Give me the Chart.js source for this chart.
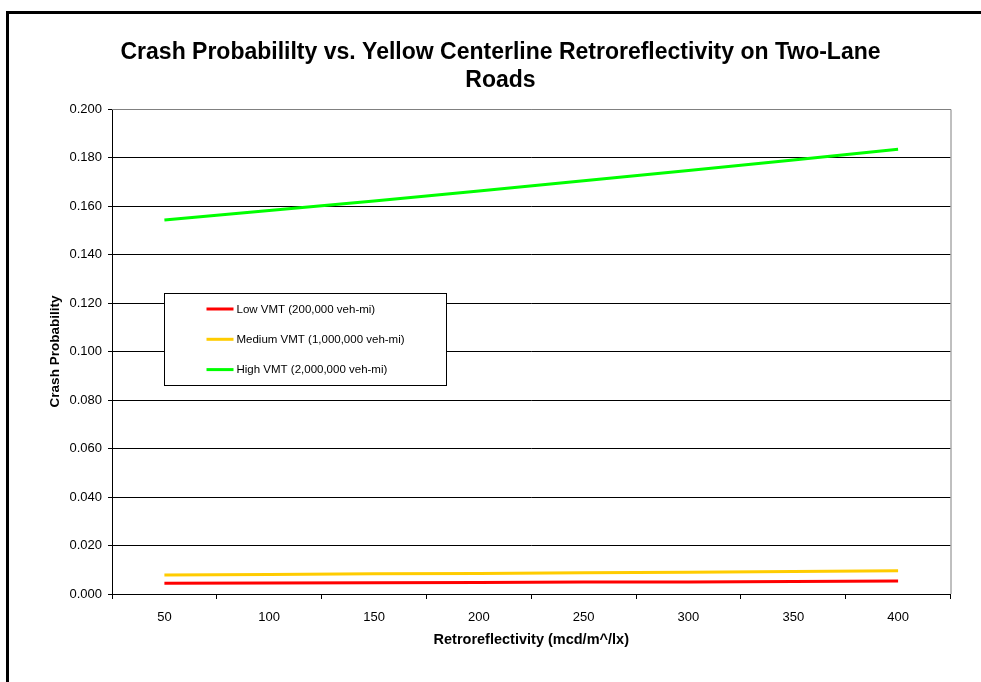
<!DOCTYPE html>
<html>
<head>
<meta charset="utf-8">
<title>Crash Probability vs. Retroreflectivity</title>
<script src="https://cdn.jsdelivr.net/npm/chart.js@4"></script>
<style>
  body { margin: 0; background: #fff; }
  #frame {
    position: absolute; left: 6px; top: 11px; width: 1100px; height: 800px;
    border-left: 3px solid #000; border-top: 3px solid #000;
  }
  #crashChart { position: absolute; left: 0; top: 0; }
</style>
</head>
<body>
<div id="frame"></div>
<canvas id="crashChart" width="981" height="682"></canvas>
<script>
// Data
const retroValues = ['50', '100', '150', '200', '250', '300', '350', '400'];
const lowVmt = [0.0044, 0.0045, 0.0046, 0.0047, 0.0049, 0.0050, 0.0052, 0.0054];
const mediumVmt = [0.0078, 0.0080, 0.0083, 0.0085, 0.0088, 0.0090, 0.0093, 0.0096];
const highVmt = [0.1542, 0.1581, 0.1621, 0.1662, 0.1704, 0.1746, 0.1790, 0.1834];
const seriesNames = ['Low VMT (200,000 veh-mi)', 'Medium VMT (1,000,000 veh-mi)', 'High VMT (2,000,000 veh-mi)'];
const seriesColors = ['#ff0000', '#ffcc00', '#00ff00'];

const font = 'Arial, "Liberation Sans", sans-serif';

// Gray plot border on top and right, like Excel
const plotBorder = {
  id: 'plotBorder',
  beforeDatasetsDraw(chart) {
    const { ctx, chartArea: a } = chart;
    ctx.save();
    ctx.strokeStyle = '#808080';
    ctx.lineWidth = 1;
    ctx.beginPath();
    ctx.moveTo(a.left, a.top + 0.5);
    ctx.lineTo(a.right + 0.5, a.top + 0.5);
    ctx.lineTo(a.right + 0.5, a.bottom);
    ctx.stroke();
    ctx.restore();
  }
};

// Boxed legend floating inside the plot
const boxLegend = {
  id: 'boxLegend',
  afterDatasetsDraw(chart) {
    const { ctx, chartArea: a } = chart;
    const w = a.right - a.left, h = a.bottom - a.top;
    const x0 = Math.round(a.left + 0.062 * w) + 0.5;
    const y0 = Math.round(a.top + 0.379 * h) + 0.5;
    const x1 = Math.round(a.left + 0.398 * w) + 0.5;
    const y1 = Math.round(a.top + 0.569 * h) + 0.5;
    ctx.save();
    ctx.fillStyle = '#fff';
    ctx.fillRect(x0, y0, x1 - x0, y1 - y0);
    ctx.strokeStyle = '#000';
    ctx.lineWidth = 1;
    ctx.strokeRect(x0, y0, x1 - x0, y1 - y0);
    ctx.font = '11.5px ' + font;
    ctx.textBaseline = 'middle';
    ctx.fillStyle = '#000';
    chart.data.datasets.forEach((ds, i) => {
      const y = y0 + 15.5 + i * 30.3;
      ctx.strokeStyle = ds.borderColor;
      ctx.lineWidth = 3;
      ctx.beginPath();
      ctx.moveTo(x0 + 42, y);
      ctx.lineTo(x0 + 69, y);
      ctx.stroke();
      ctx.fillText(ds.label, x0 + 72, y + 0.5);
    });
    ctx.restore();
  }
};

// Build Chart
new Chart(document.getElementById('crashChart'), {
  type: 'line',
  data: {
    labels: retroValues,
    datasets: [lowVmt, mediumVmt, highVmt].map((values, i) => ({
      label: seriesNames[i],
      data: values,
      borderColor: seriesColors[i],
      backgroundColor: seriesColors[i],
      borderWidth: 3,
      pointRadius: 0,
      tension: 0
    }))
  },
  options: {
    responsive: false,
    animation: false,
    devicePixelRatio: 1,
    layout: { padding: { top: 0, left: 50.5, right: 30.5, bottom: 33.3 } },
    plugins: {
      legend: { display: false },
      tooltip: { enabled: false },
      title: {
        display: true,
        text: ['Crash Probabililty vs. Yellow Centerline Retroreflectivity on Two-Lane', 'Roads'],
        color: '#000',
        font: { family: font, size: 23, weight: 'bold', lineHeight: 28 / 23 },
        padding: { top: 39, bottom: 14 }
      }
    },
    scales: {
      x: {
        offset: true,
        grid: { offset: true, drawOnChartArea: false, drawTicks: true, tickLength: 5, tickColor: '#000' },
        border: { display: true, color: '#000', width: 1 },
        ticks: { color: '#000', font: { family: font, size: 13 }, padding: 11, maxRotation: 0 },
        title: {
          display: true,
          text: 'Retroreflectivity (mcd/m^/lx)',
          color: '#000',
          font: { family: font, size: 14.5, weight: 'bold' },
          padding: { top: 0, bottom: 0 }
        },
        afterFit: scale => { scale.height = 54.7; }
      },
      y: {
        min: 0,
        max: 0.2,
        grid: {
          color: c => (c.index === 10 ? '#808080' : '#000'),
          tickColor: '#000',
          tickLength: 4,
          lineWidth: 1
        },
        border: { display: true, color: '#000', width: 1 },
        ticks: {
          stepSize: 0.02,
          color: '#000',
          font: { family: font, size: 13 },
          padding: 6,
          callback: v => v.toFixed(3)
        },
        title: {
          display: true,
          text: 'Crash Probability',
          color: '#000',
          font: { family: font, size: 13.5, weight: 'bold', lineHeight: 1 },
          padding: { top: -2, bottom: 0 }
        },
        afterFit: scale => { scale.width = 61.5; }
      }
    }
  },
  plugins: [plotBorder, boxLegend]
});
</script>
</body>
</html>
